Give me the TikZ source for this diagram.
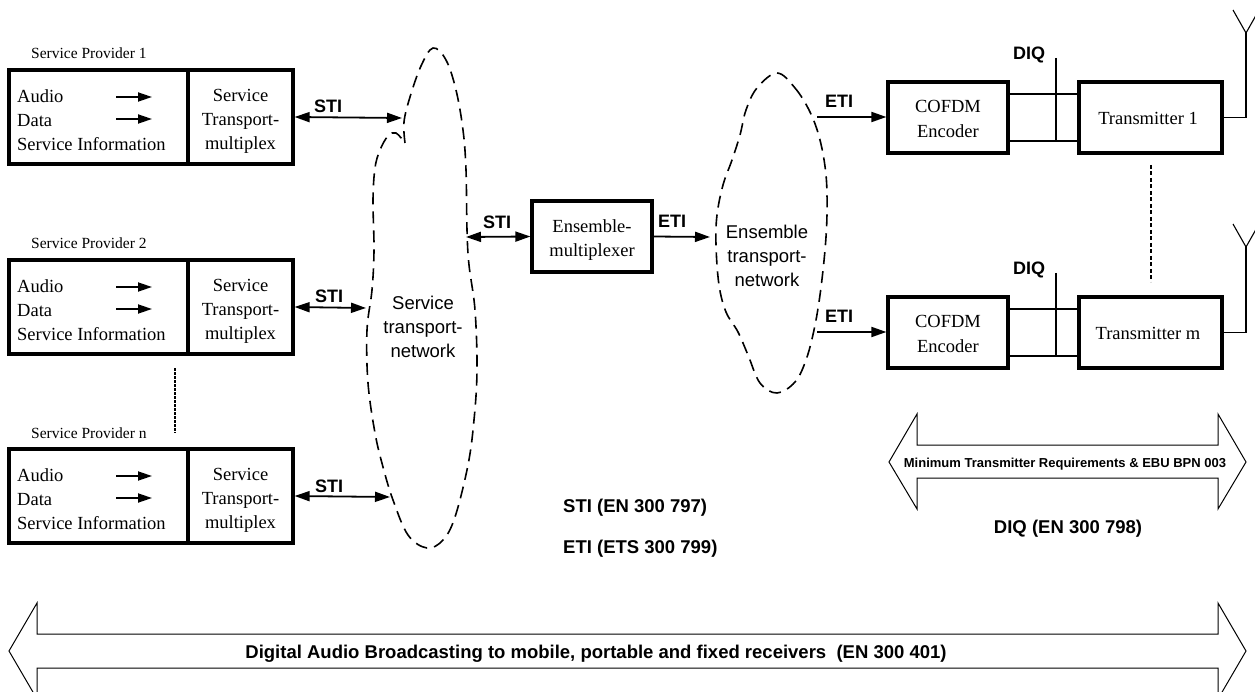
\documentclass[tikz,border=0pt]{standalone}
\usepackage{fontspec}
\setmainfont{Liberation Serif}
\setsansfont{Liberation Sans}
\usetikzlibrary{arrows.meta}
\tikzset{
  serif/.style={font=\rmfamily\fontsize{18.5}{24}\selectfont},
  serifb/.style={font=\rmfamily\fontsize{18.5}{25}\selectfont},
  small/.style={font=\rmfamily\fontsize{15.5}{18}\selectfont},
  lab/.style={font=\sffamily\bfseries\fontsize{18}{22}\selectfont},
  stdlab/.style={font=\sffamily\bfseries\fontsize{18.5}{22}\selectfont, inner sep=0pt},
  cloudtxt/.style={font=\sffamily\fontsize{18.5}{24}\selectfont, align=center, inner sep=0pt, anchor=north},
  blk/.style={draw, line width=3.2pt, inner sep=0pt},
  arr/.style={line width=1.8pt, -{Triangle[length=15pt,width=10pt]}},
  darr/.style={line width=1.8pt, {Triangle[length=15pt,width=10pt]}-{Triangle[length=15pt,width=10pt]}},
  inarr/.style={line width=1.8pt, -{Triangle[length=14pt,width=9pt]}},
  wire/.style={line width=1.1pt},
  netcloud/.style={line width=1.6pt, dash pattern=on 12pt off 7pt},
  bigarrow/.style={line width=1pt},
}
\begin{document}
\begin{tikzpicture}[x=1pt,y=-1pt]
\useasboundingbox (0,0) rectangle (1255,692);

% ---------- Service providers ----------
\foreach \i/\dy/\n in {1/0/1, 2/190/2, 3/379/n}{
  \node[blk, minimum width=179pt, minimum height=94pt] (sp\i a) at (98.5,117+\dy) {};
  \node[blk, minimum width=105pt, minimum height=94pt] (sp\i b) at (240.5,117+\dy) {};
  \node[small, anchor=base west, inner sep=0pt] (sp\i lab) at (31,59+\dy) {Service Provider \n};
  \node[serif, align=left, anchor=north west, inner sep=0pt] (sp\i in) at (17,89.4+\dy) {Audio\\Data\\Service Information};
  \node[serif, align=center, anchor=north, inner sep=0pt] (sp\i out) at (240.5,89.4+\dy) {Service\\Transport-\\multiplex};
  \coordinate (sp\i a1) at (116,97+\dy);
  \coordinate (sp\i a2) at (152,97+\dy);
  \coordinate (sp\i d1) at (116,119+\dy);
  \coordinate (sp\i d2) at (152,119+\dy);
  \draw[inarr] (sp\i a1) -- (sp\i a2);
  \draw[inarr] (sp\i d1) -- (sp\i d2);
}
\coordinate (c1a) at (402,118);
\coordinate (c1b) at (366,308);
\coordinate (c1c) at (390,497);
\draw[darr] (sp1b.east) -- (c1a);
\draw[darr] (sp2b.east) -- (c1b);
\draw[darr] (sp3b.east) -- (c1c);
\node[lab, anchor=base] (sti1) at (328,113) {STI};
\node[lab, anchor=base] (sti2) at (329,303) {STI};
\node[lab, anchor=base] (sti3) at (329,492) {STI};

\coordinate (dotA) at (175,368);
\coordinate (dotB) at (175,433);
\draw[line width=1.3pt, dash pattern=on 2.5pt off 1.5pt] (dotA) -- (dotB);

% ---------- Service transport network cloud ----------
\draw[netcloud] plot[smooth, tension=0.6] coordinates {(405,143) (404,122) (410,97) (421,66) (433,48) (446,60) (456,90) (463,130) (466,170) (467,230) (469,265) (475,310) (477,370) (474,420) (468,465) (455,517) (443,540) (427,548) (408,535) (393,500) (383,467) (375,433) (368,383) (367,330) (372,290) (374,250) (373,200) (375,168) (380,150) (388,136) (396,133) (405,143)};
\node[cloudtxt] (stn) at (423,295.5) {Service\\transport-\\network};

% ---------- Ensemble multiplexer ----------
\node[blk, minimum width=120pt, minimum height=71pt] (emux) at (592,236.5) {};
\node[serif, align=center, anchor=north, inner sep=0pt] (emuxt) at (592,219.4) {Ensemble-\\multiplexer};
\coordinate (c1r) at (466,237);
\coordinate (c2l) at (710,237);
\draw[darr] (c1r) -- (emux.west);
\draw[arr] (emux.east) -- (c2l);
\node[lab, anchor=base] (sti4) at (497,229) {STI};
\node[lab, anchor=base] (eti1) at (672,228) {ETI};

% ---------- Ensemble transport network cloud ----------
\draw[netcloud] plot[smooth cycle, tension=0.6] coordinates {(777,73) (795,88) (810,112) (820,140) (826,175) (827,213) (825,250) (820,295) (814,330) (806,360) (795,382) (777,393) (760,383) (748,355) (738,332) (726,312) (719,285) (716,245) (717,215) (723,185) (732,160) (740,135) (746,110) (757,88)};
\node[cloudtxt] (etn) at (767,224.7) {Ensemble\\transport-\\network};

% ---------- Transmitter chains ----------
\foreach \j/\dy/\t/\ap in {1/0/1/0, 2/215/m/214}{
  \node[blk, minimum width=120pt, minimum height=71pt] (cof\j) at (948,117.5+\dy) {};
  \node[serifb, align=center, anchor=north, inner sep=0pt] (cof\j t) at (948,100.5+\dy) {COFDM\\Encoder};
  \node[blk, minimum width=143pt, minimum height=71pt] (tx\j) at (1150.5,117.5+\dy) {};
  \node[serif, anchor=base, inner sep=0pt] (tx\j t) at (1148,125+\dy) {Transmitter \t};
  \draw[wire] ([yshift=23.5pt]cof\j.east) -- ([yshift=23.5pt]tx\j.west);
  \draw[wire] ([yshift=-23.5pt]cof\j.east) -- ([yshift=-23.5pt]tx\j.west);
  \coordinate (diq\j top) at (1056,58+\dy);
  \coordinate (diq\j bot) at (1056,141+\dy);
  \draw[wire] (diq\j top) -- (diq\j bot);
  \node[lab, anchor=base] (diq\j) at (1029,60+\dy) {DIQ};
  \coordinate (eti\j s) at (817,117+\dy);
  \draw[arr] (eti\j s) -- (eti\j s -| cof\j.west);
  \node[lab, anchor=base] (eti\j lab) at (839,108+\dy) {ETI};
  \coordinate (ant\j) at (1246,33+\ap);
  \draw[wire] (tx\j.east) -| (ant\j);
  \draw[wire] (1233,10+\ap) -- (ant\j) -- (1259,10+\ap);
}
\coordinate (txdA) at (1151,165);
\coordinate (txdB) at (1151,282);
\draw[line width=1.4pt, dash pattern=on 4pt off 2.5pt] (txdA) -- (txdB);

% ---------- Minimum transmitter requirements arrow ----------
\draw[bigarrow] (889,462) -- (917,414) -- (917,445) -- (1218,445) -- (1218,414) -- (1246,462) -- (1218,509) -- (1218,478) -- (917,478) -- (917,509) -- cycle;
\node[font=\sffamily\bfseries\fontsize{13}{15}\selectfont, anchor=base, inner sep=0pt] (mtr) at (1065,467.5) {Minimum Transmitter Requirements \& EBU BPN 003};

% ---------- Standards ----------
\node[stdlab, anchor=base west] (stistd) at (563,512) {STI (EN 300 797)};
\node[stdlab, anchor=base west] (etistd) at (563,553) {ETI (ETS 300 799)};
\node[stdlab, anchor=base] (diqstd) at (1068,533) {DIQ (EN 300 798)};

% ---------- DAB arrow ----------
\draw[bigarrow] (9,651) -- (37,603) -- (37,634) -- (1218,634) -- (1218,603) -- (1246,651) -- (1218,699) -- (1218,668) -- (37,668) -- (37,699) -- cycle;
\node[font=\sffamily\bfseries\fontsize{18.5}{22}\selectfont, anchor=base, inner sep=0pt] (dab) at (596,658) {Digital Audio Broadcasting to mobile, portable and fixed receivers\ \ (EN 300 401)};
\end{tikzpicture}
\end{document}
